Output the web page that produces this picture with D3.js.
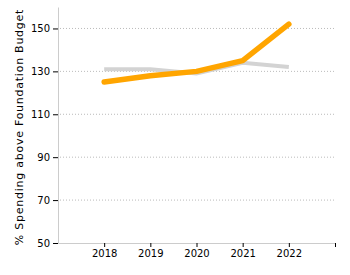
<!DOCTYPE html>
<html>
<head>
    <meta charset="utf-8" />
    <script src="https://cdn.jsdelivr.net/npm/d3@7"></script>
    <style>
        body { margin: 0; }
        text { font-family: "DejaVu Sans", Verdana, sans-serif; }
        .axis path { stroke: #ccc; }
        .grid line { stroke: #bbb; stroke-dasharray: 1,2; }
    </style>
</head>
<body>
    <script>
        var years = [2018, 2019, 2020, 2021, 2022];
        var orangeVals = [125, 128, 130, 135, 152];
        var grayVals = [131, 131, 129, 134, 132];
        var yTicks = [50, 70, 90, 110, 130, 150];

        var svg = d3.select('body').append('svg').attr('width', 350).attr('height', 275);

        var x = d3.scaleLinear().domain([2017, 2023]).range([58, 335]);
        var y = d3.scaleLinear().domain([50, 160]).range([243, 7]);

        // gridlines
        svg.append('g').attr('class', 'grid')
            .selectAll('line').data(yTicks.slice(1)).enter()
            .append('line')
            .attr('x1', 60).attr('x2', 335)
            .attr('y1', function (d) { return y(d); })
            .attr('y2', function (d) { return y(d); });

        var xAxis = svg.append('g').attr('class', 'axis')
            .attr('transform', 'translate(0,243)')
            .call(d3.axisBottom(x).tickValues(years.concat([2023]))
                .tickFormat(function (d) { return d === 2023 ? '' : d; })
                .tickSize(4).tickSizeOuter(0));
        xAxis.selectAll('text').attr('font-size', 10).attr('fill', '#000');

        var yAxis = svg.append('g').attr('class', 'axis')
            .attr('transform', 'translate(58,0)')
            .call(d3.axisLeft(y).tickValues(yTicks).tickSize(5).tickSizeOuter(0));
        yAxis.selectAll('text').attr('font-size', 10).attr('fill', '#000');

        svg.append('text')
            .attr('transform', 'translate(23,127) rotate(-90)')
            .attr('text-anchor', 'middle')
            .attr('font-size', 11)
            .attr('letter-spacing', 0.75)
            .text('% Spending above Foundation Budget');

        var line = d3.line()
            .x(function (d, i) { return x(years[i]); })
            .y(function (d) { return y(d); });

        svg.append('path').datum(grayVals)
            .attr('d', line)
            .attr('fill', 'none')
            .attr('stroke', '#d3d3d3')
            .attr('stroke-width', 4);

        svg.append('path').datum(orangeVals)
            .attr('d', line)
            .attr('fill', 'none')
            .attr('stroke', '#ffa500')
            .attr('stroke-width', 5.5)
            .attr('stroke-linecap', 'round')
            .attr('stroke-linejoin', 'round');
    </script>
</body>
</html>
